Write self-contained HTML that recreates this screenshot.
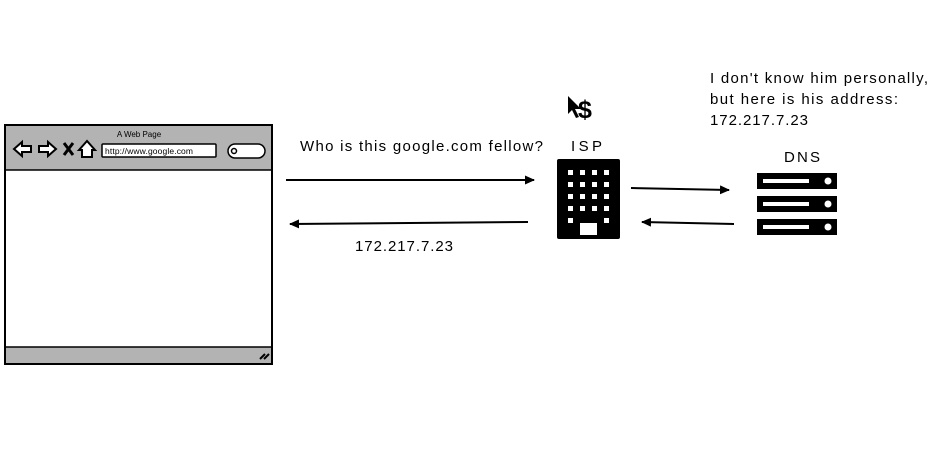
<!DOCTYPE html>
<html><head><style>html,body{margin:0;padding:0;background:#fff;width:935px;height:474px;overflow:hidden}</style></head>
<body>
<svg width="935" height="474" viewBox="0 0 935 474" xmlns="http://www.w3.org/2000/svg" font-family="Liberation Sans, sans-serif">
<defs>
<marker id="ah" markerWidth="10" markerHeight="9" refX="9" refY="4.5" orient="auto" markerUnits="userSpaceOnUse"><path d="M0,0 L10,4.5 L0,9 z" fill="#000"/></marker>
</defs>
<!-- browser -->
<rect x="5" y="125" width="267" height="239" fill="#fff" stroke="#000" stroke-width="2"/>
<rect x="6" y="126" width="265" height="44" fill="#b3b3b3"/>
<line x1="5" y1="170" x2="272" y2="170" stroke="#000" stroke-width="1.5"/>
<rect x="6" y="347" width="265" height="16" fill="#b3b3b3"/>
<line x1="5" y1="347" x2="272" y2="347" stroke="#000" stroke-width="1.5"/>
<path d="M260,359 l5,-5 M264,359 l5,-5" stroke="#000" stroke-width="2"/>
<text x="139" y="137" font-size="8" text-anchor="middle">A Web Page</text>
<path d="M14,149 l8,-7 v4 h9 v6 h-9 v4 z" fill="#fff" stroke="#000" stroke-width="2"/>
<path d="M56,149 l-8,-7 v4 h-9 v6 h9 v4 z" fill="#fff" stroke="#000" stroke-width="2"/>
<path d="M64,143 l9,12 M73,143 l-9,12" stroke="#000" stroke-width="3"/>
<path d="M79,150 l8,-9 l8,9 h-3 v7 h-10 v-7 z" fill="#fff" stroke="#000" stroke-width="2"/>
<rect x="102" y="144" width="114" height="13" fill="#fff" stroke="#000" stroke-width="1.5" rx="1"/>
<text x="105" y="154" font-size="8.5" textLength="88">http://www.google.com</text>
<rect x="228" y="144" width="37" height="14" rx="7" fill="#fff" stroke="#000" stroke-width="1.5"/>
<circle cx="234" cy="151" r="2.5" fill="none" stroke="#000" stroke-width="1.5"/>
<!-- arrows left -->
<line x1="286" y1="180" x2="534" y2="180" stroke="#000" stroke-width="2" marker-end="url(#ah)"/>
<line x1="528" y1="222" x2="290" y2="224" stroke="#000" stroke-width="2" marker-end="url(#ah)"/>
<text x="300" y="151" font-size="15" textLength="243">Who is this google.com fellow?</text>
<text x="355" y="251" font-size="15" textLength="98">172.217.7.23</text>
<!-- ISP -->
<text x="578" y="118" font-size="25" font-weight="bold">$</text>
<path d="M568,96 v18 l4,-4 l4,8 l3,-1 l-4,-8 h6 z" fill="#000"/>
<text x="571" y="151" font-size="15" textLength="31">ISP</text>
<rect x="557" y="159" width="63" height="80" rx="2" fill="#000"/>
<g fill="#fff">
<rect x="568" y="170" width="5" height="5"/><rect x="580" y="170" width="5" height="5"/><rect x="592" y="170" width="5" height="5"/><rect x="604" y="170" width="5" height="5"/>
<rect x="568" y="182" width="5" height="5"/><rect x="580" y="182" width="5" height="5"/><rect x="592" y="182" width="5" height="5"/><rect x="604" y="182" width="5" height="5"/>
<rect x="568" y="194" width="5" height="5"/><rect x="580" y="194" width="5" height="5"/><rect x="592" y="194" width="5" height="5"/><rect x="604" y="194" width="5" height="5"/>
<rect x="568" y="206" width="5" height="5"/><rect x="580" y="206" width="5" height="5"/><rect x="592" y="206" width="5" height="5"/><rect x="604" y="206" width="5" height="5"/>
<rect x="568" y="218" width="5" height="5"/><rect x="604" y="218" width="5" height="5"/>
<rect x="580" y="223" width="17" height="12"/>
</g>
<!-- ISP-DNS arrows -->
<line x1="631" y1="188" x2="729" y2="190" stroke="#000" stroke-width="2" marker-end="url(#ah)"/>
<line x1="734" y1="224" x2="642" y2="222" stroke="#000" stroke-width="2" marker-end="url(#ah)"/>
<!-- DNS -->
<text x="784" y="162" font-size="15" textLength="36">DNS</text>
<g>
<rect x="757" y="173" width="80" height="16" fill="#000"/>
<rect x="757" y="196" width="80" height="16" fill="#000"/>
<rect x="757" y="219" width="80" height="16" fill="#000"/>
<rect x="763" y="179" width="46" height="4" fill="#fff"/><circle cx="828" cy="181" r="3.5" fill="#fff"/>
<rect x="763" y="202" width="46" height="4" fill="#fff"/><circle cx="828" cy="204" r="3.5" fill="#fff"/>
<rect x="763" y="225" width="46" height="4" fill="#fff"/><circle cx="828" cy="227" r="3.5" fill="#fff"/>
</g>
<text x="710" y="83" font-size="15" textLength="218">I don't know him personally,</text>
<text x="710" y="104" font-size="15" textLength="188">but here is his address:</text>
<text x="710" y="125" font-size="15" textLength="98">172.217.7.23</text>
</svg>
</body></html>
